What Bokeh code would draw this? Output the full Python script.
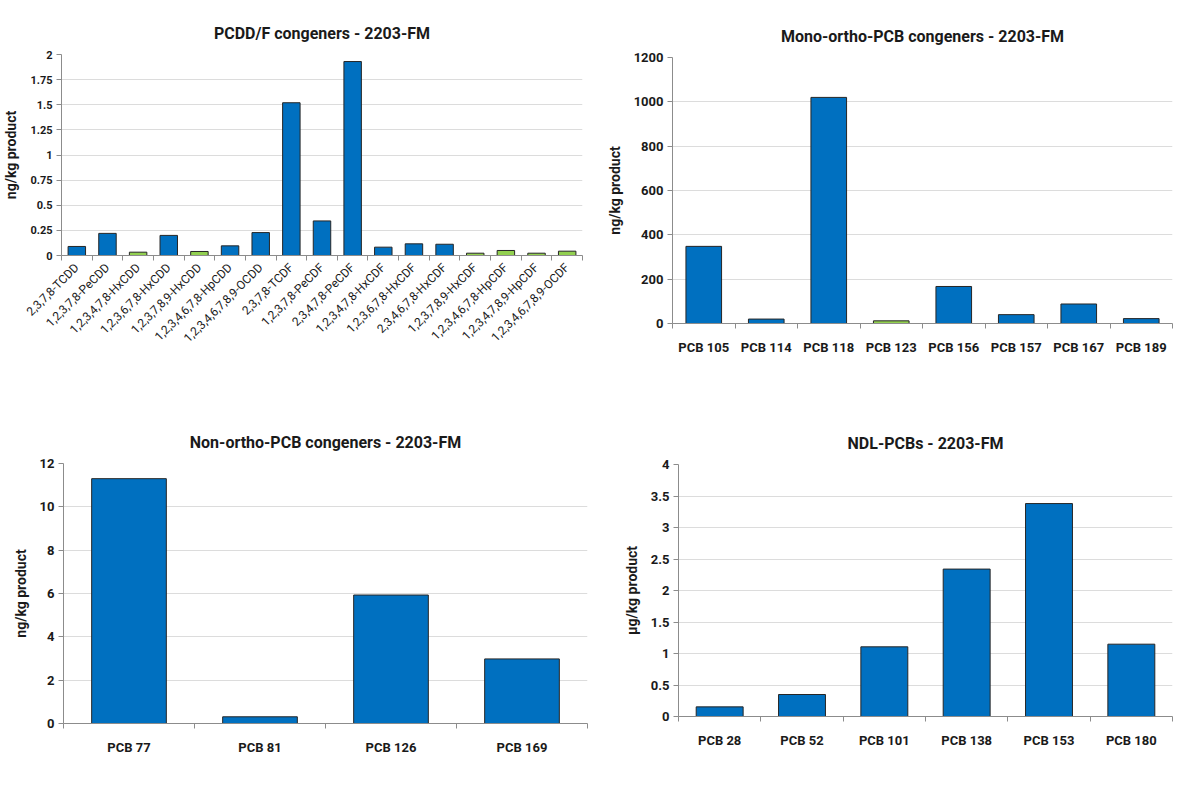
from math import pi
from bokeh.plotting import figure
from bokeh.models import (Range1d, FixedTicker, Legend, LegendItem, ColumnDataSource,
                          NumeralTickFormatter)
from bokeh.layouts import column, row
from bokeh.embed import file_html
from bokeh.resources import INLINE

# ---------------- data ----------------
pcdd_cats = ["2,3,7,8-TCDD", "1,2,3,7,8-PeCDD", "1,2,3,4,7,8-HxCDD", "1,2,3,6,7,8-HxCDD",
             "1,2,3,7,8,9-HxCDD", "1,2,3,4,6,7,8-HpCDD", "1,2,3,4,6,7,8,9-OCDD", "2,3,7,8-TCDF",
             "1,2,3,7,8-PeCDF", "2,3,4,7,8-PeCDF", "1,2,3,4,7,8-HxCDF", "1,2,3,6,7,8-HxCDF",
             "2,3,4,6,7,8-HxCDF", "1,2,3,7,8,9-HxCDF", "1,2,3,4,6,7,8-HpCDF", "1,2,3,4,7,8,9-HpCDF",
             "1,2,3,4,6,7,8,9-OCDF"]
pcdd_vals = [0.09, 0.22, 0.033, 0.20, 0.04, 0.096, 0.228, 1.52, 0.344, 1.93, 0.083, 0.116,
             0.112, 0.023, 0.05, 0.023, 0.043]
pcdd_series = ["A", "A", "M", "A", "M", "A", "A", "A", "A", "A", "A", "A", "A", "M", "M", "M", "M"]
pcdd_yticks = [0, 0.25, 0.5, 0.75, 1, 1.25, 1.5, 1.75, 2]

mono_cats = ["PCB 105", "PCB 114", "PCB 118", "PCB 123", "PCB 156", "PCB 157", "PCB 167", "PCB 189"]
mono_vals = [348, 20, 1020, 12, 167, 40, 88, 22]
mono_series = ["A", "A", "A", "M", "A", "A", "A", "A"]
mono_yticks = [0, 200, 400, 600, 800, 1000, 1200]

non_cats = ["PCB 77", "PCB 81", "PCB 126", "PCB 169"]
non_vals = [11.3, 0.31, 5.93, 2.98]
non_series = ["A", "A", "A", "A"]
non_yticks = [0, 2, 4, 6, 8, 10, 12]

ndl_cats = ["PCB 28", "PCB 52", "PCB 101", "PCB 138", "PCB 153", "PCB 180"]
ndl_vals = [0.153, 0.349, 1.106, 2.34, 3.38, 1.148]
ndl_series = ["A", "A", "A", "A", "A", "A"]
ndl_yticks = [0, 0.5, 1, 1.5, 2, 2.5, 3, 3.5, 4]

series_names = {"A": "Assigned value", "M": "Median"}
series_colors = {"A": "#0070C0", "M": "#92D050"}

FONT = "Roboto"
AXIS_COLOR = "#8c8c8c"
TEXT_COLOR = "#1a1a1a"


def make_chart(title, cats, vals, series, ylabel, yticks, width, height,
               border_left, border_right, border_top, border_bottom,
               legend_loc, legend_spacing, rotate=False, tick_font="13px", ytick_font="13px"):
    n = len(cats)
    centers = [i + 0.5 for i in range(n)]
    p = figure(width=width, height=height, output_backend="svg", toolbar_location=None,
               x_range=Range1d(0, n), y_range=Range1d(yticks[0], yticks[-1]),
               min_border_left=border_left, min_border_right=border_right,
               min_border_top=border_top, min_border_bottom=border_bottom)
    p.outline_line_color = None
    p.background_fill_color = "white"
    p.border_fill_color = "white"

    p.title.text = title
    p.title.align = "center"
    p.title.text_font = FONT
    p.title.text_font_size = "16px"
    p.title.text_font_style = "bold"
    p.title.text_color = TEXT_COLOR
    p.title.standoff = 24

    items = []
    for key in ["A", "M"]:
        xs = [centers[i] for i in range(n) if series[i] == key]
        ys = [vals[i] for i in range(n) if series[i] == key]
        src = ColumnDataSource(dict(x=xs, top=ys))
        r = p.vbar(x="x", top="top", bottom=0, width=0.57, source=src,
                   fill_color=series_colors[key], line_color="#262626", line_width=1)
        items.append(LegendItem(label=series_names[key], renderers=[r]))

    # x axis: labels at centres, tick marks between categories
    xa = p.xaxis[0]
    xa.ticker = FixedTicker(ticks=centers, minor_ticks=list(range(n + 1)))
    xa.major_label_overrides = {c: lab for c, lab in zip(centers, cats)}
    xa.major_tick_line_color = None
    xa.minor_tick_in = 0
    xa.minor_tick_out = 5
    xa.minor_tick_line_color = AXIS_COLOR
    xa.axis_line_color = AXIS_COLOR
    xa.major_label_text_font = FONT
    xa.major_label_text_font_size = tick_font
    xa.major_label_text_color = TEXT_COLOR
    if rotate:
        xa.major_label_orientation = pi / 4
        xa.major_label_standoff = 4
        xa.major_label_text_font_style = "normal"
    else:
        xa.major_label_standoff = 10
        xa.major_label_text_font_style = "bold"

    # y axis
    ya = p.yaxis[0]
    ya.ticker = FixedTicker(ticks=yticks, minor_ticks=[])
    ya.formatter = NumeralTickFormatter(format="0.[00]")
    ya.axis_line_color = AXIS_COLOR
    ya.major_tick_line_color = AXIS_COLOR
    ya.major_tick_in = 0
    ya.major_tick_out = 5
    ya.major_label_standoff = 4
    ya.major_label_text_font = FONT
    ya.major_label_text_font_size = ytick_font
    ya.major_label_text_color = TEXT_COLOR
    ya.major_label_text_font_style = "bold"
    ya.axis_label = ylabel
    ya.axis_label_text_font = FONT
    ya.axis_label_text_font_size = "14px"
    ya.axis_label_text_font_style = "bold"
    ya.axis_label_text_color = TEXT_COLOR
    ya.axis_label_standoff = 8

    p.xgrid.visible = False
    p.ygrid.grid_line_color = "#dcdcdc"
    p.ygrid.grid_line_width = 1.2

    legend = Legend(items=items, orientation="horizontal", location=legend_loc)
    legend.border_line_color = "#a6a6a6"
    legend.border_line_width = 1.5
    legend.padding = 4
    legend.spacing = legend_spacing
    legend.glyph_width = 9
    legend.glyph_height = 9
    legend.label_standoff = 3
    legend.label_width = 90
    legend.label_height = 14
    legend.label_text_font = FONT
    legend.label_text_font_size = "13px"
    legend.label_text_color = TEXT_COLOR
    legend.background_fill_color = "white"
    legend.background_fill_alpha = 1
    legend.margin = 0
    p.add_layout(legend, "center")
    return p


p1 = make_chart("PCDD/F congeners - 2203-FM", pcdd_cats, pcdd_vals, pcdd_series,
                "ng/kg product", pcdd_yticks, 592, 392, 52, 10, 54, 137,
                (127, -127), 47, rotate=True, tick_font="12px", ytick_font="11px")
p2 = make_chart("Mono-ortho-PCB congeners - 2203-FM", mono_cats, mono_vals, mono_series,
                "ng/kg product", mono_yticks, 584, 392, 80, 4, 57, 69,
                (136, -59), 39)
p3 = make_chart("Non-ortho-PCB congeners - 2203-FM", non_cats, non_vals, non_series,
                "ng/kg product", non_yticks, 592, 386, 63, 5, 71, 55,
                (133, -55), 54)
p4 = make_chart("NDL-PCBs - 2203-FM", ndl_cats, ndl_vals, ndl_series,
                "\u00b5g/kg product", ndl_yticks, 584, 386, 86, 4, 72, 62,
                (134, -59), 44)

GRID_TEMPLATE = """
{% from macros import embed %}
{% block postamble %}
<style>
.chart-grid { display: grid; grid-template-columns: 592px 584px; grid-template-rows: 392px 386px; }
.chart-grid > div { width: 100%; height: 100%; overflow: hidden; }
</style>
{% endblock %}
{% block contents %}
<div class="chart-grid">
{% for doc in docs %}{% for root in doc.roots %}<div>{{ embed(root) }}</div>{% endfor %}{% endfor %}
</div>
{% endblock %}
"""

try:
    html = file_html([p1, p2, p3, p4], INLINE, template=GRID_TEMPLATE)
except Exception:
    html = file_html(column(row(p1, p2), row(p3, p4)), INLINE)

open("out.html", "w").write(html)
